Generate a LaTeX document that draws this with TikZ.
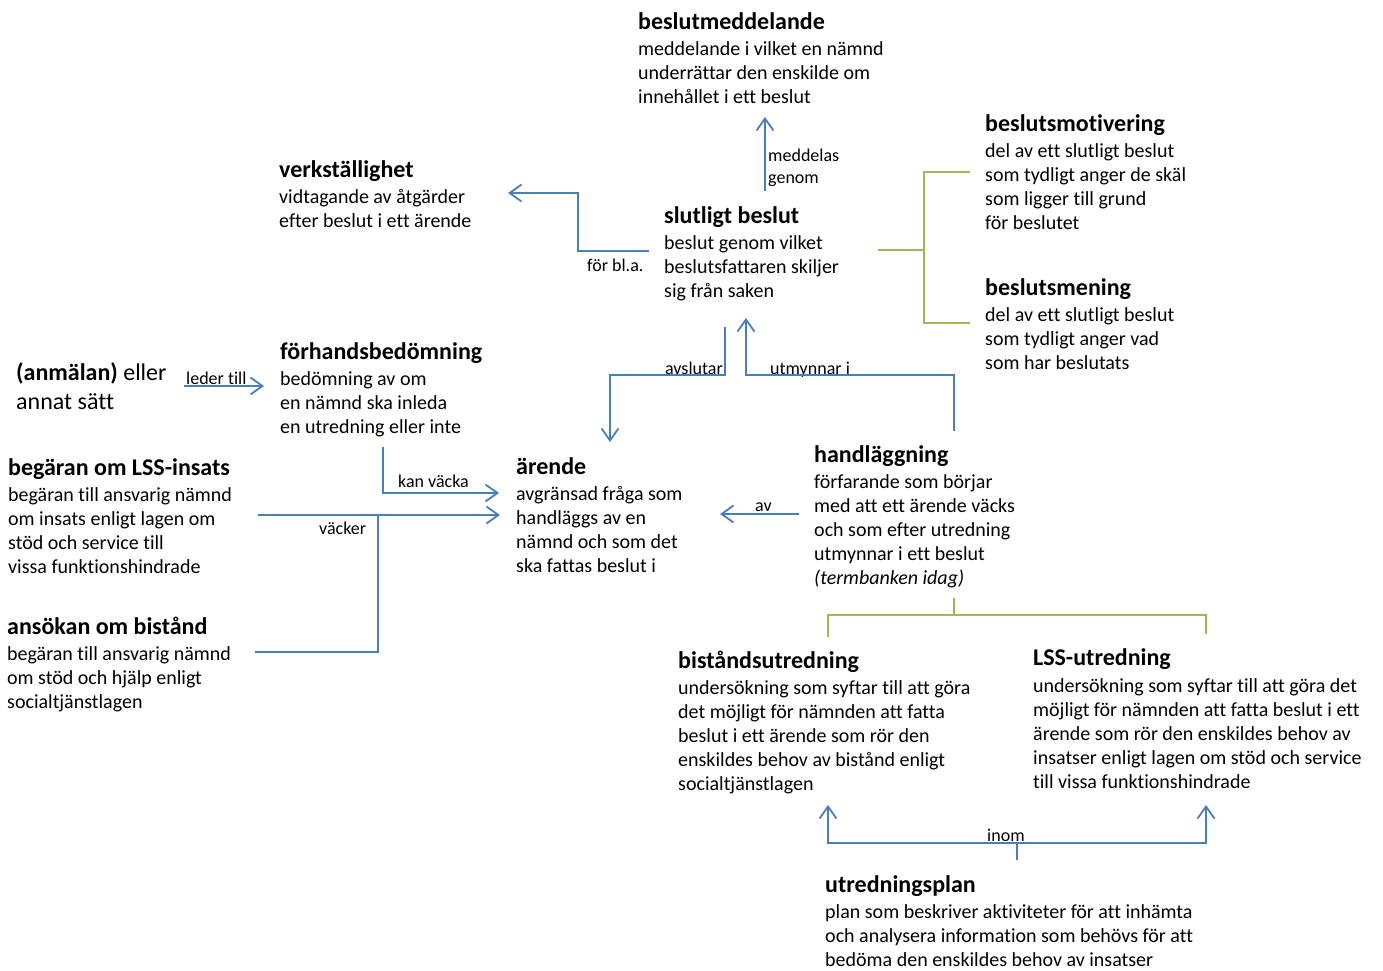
\documentclass[tikz,border=0pt]{standalone}
\usepackage{fontspec}
\setmainfont{Carlito}[Ligatures=NoCommon]
\usetikzlibrary{arrows.meta}
\definecolor{bl}{HTML}{4A7EBB}
\definecolor{gr}{HTML}{9BBB59}
\tikzset{
  ttl/.style={font=\fontsize{24}{29}\selectfont\bfseries, anchor=base west, inner sep=0pt},
  bdy/.style={font=\fontsize{20}{24}\selectfont, anchor=base west, align=left, inner sep=0pt},
  lbl/.style={font=\fontsize{18}{22}\selectfont, anchor=base west, align=left, inner sep=0pt},
  conn/.style={draw=bl, line width=1.8pt},
  arr/.style={conn, -{Straight Barb[length=12pt,width=17pt,line width=1.8pt]}},
  grn/.style={draw=gr, line width=1.8pt},
}
\begin{document}
\begin{tikzpicture}[x=1pt,y=-1pt]
\useasboundingbox (0,0) rectangle (1383,970);
\begin{scope}[yshift=-1pt]
% texts (multi-line nodes are placed by the baseline of their last line)
\node[ttl] (bm-t) at (638,28) {beslutmeddelande};
\node[bdy] (bm) at (638,102) {meddelande i vilket en nämnd\\underrättar den enskilde om\\innehållet i ett beslut};
\node[ttl] (vk-t) at (279,176) {verkställighet};
\node[bdy] (vk) at (279,226) {vidtagande av åtgärder\\efter beslut i ett ärende};
\node[ttl] (sb-t) at (664,222) {slutligt beslut};
\node[bdy] (sb) at (664,296) {beslut genom vilket\\beslutsfattaren skiljer\\sig från saken};
\node[ttl] (bmo-t) at (985,130) {beslutsmotivering};
\node[bdy] (bmo) at (985,228) {del av ett slutligt beslut\\som tydligt anger de skäl\\som ligger till grund\\för beslutet};
\node[ttl] (bme-t) at (985,294) {beslutsmening};
\node[bdy] (bme) at (985,368) {del av ett slutligt beslut\\som tydligt anger vad\\som har beslutats};
\node[font=\fontsize{24}{29}\selectfont, anchor=base west, align=left, inner sep=0pt] (an) at (16,408) {\textbf{(anmälan)} eller\\annat sätt};
\node[ttl] (fb-t) at (280,358) {förhandsbedömning};
\node[bdy] (fb) at (280,432) {bedömning av om\\en nämnd ska inleda\\en utredning eller inte};
\node[ttl] (lss-t) at (8,474) {begäran om LSS-insats};
\node[bdy] (lss) at (8,572) {begäran till ansvarig nämnd\\om insats enligt lagen om\\stöd och service till\\vissa funktionshindrade};
\node[ttl] (ar-t) at (516,473) {ärende};
\node[bdy] (ar) at (516,571) {avgränsad fråga som\\handläggs av en\\nämnd och som det\\ska fattas beslut i};
\node[ttl] (hl-t) at (814,461) {handläggning};
\node[bdy] (hl) at (814,583) {förfarande som börjar\\med att ett ärende väcks\\och som efter utredning\\utmynnar i ett beslut\\\textit{(termbanken idag)}};
\node[ttl] (ab-t) at (7,633) {ansökan om bistånd};
\node[bdy] (ab) at (7,707) {begäran till ansvarig nämnd\\om stöd och hjälp enligt\\socialtjänstlagen};
\node[ttl] (bu-t) at (678,667) {biståndsutredning};
\node[bdy] (bu) at (678,789) {undersökning som syftar till att göra\\det möjligt för nämnden att fatta\\beslut i ett ärende som rör den\\enskildes behov av bistånd enligt\\socialtjänstlagen};
\node[ttl] (lu-t) at (1033,664) {LSS-utredning};
\node[bdy] (lu) at (1033,787) {undersökning som syftar till att göra det\\möjligt för nämnden att fatta beslut i ett\\ärende som rör den enskildes behov av\\insatser enligt lagen om stöd och service\\till vissa funktionshindrade};
\node[ttl] (up-t) at (825,891) {utredningsplan};
\node[bdy] (up) at (825,965) {plan som beskriver aktiviteter för att inhämta\\och analysera information som behövs för att\\bedöma den enskildes behov av insatser};
% labels
\node[lbl] (lm) at (768,182) {meddelas\\genom};
\node[lbl] (lf) at (587,270) {för bl.a.};
\node[lbl] (ll) at (186,383) {leder till};
\node[lbl, anchor=base east] (la) at (723,373) {avslutar};
\node[lbl] (lu2) at (770,373) {utmynnar i};
\node[lbl] (lk) at (398,486) {kan väcka};
\node[lbl] (lv) at (319,533) {väcker};
\node[lbl] (lav) at (755,510) {av};
\node[lbl] (li) at (987,840) {inom};
\end{scope}
% coordinates
\coordinate (m0) at (765,191); \coordinate (m1) at (765,117);
\coordinate (f0) at (649,251); \coordinate (f1) at (578,251); \coordinate (f2) at (578,193); \coordinate (f3) at (508,193);
\coordinate (l0) at (184,386); \coordinate (l1) at (264,386);
\coordinate (a0) at (725,327); \coordinate (a1) at (725,375); \coordinate (a2) at (610,375); \coordinate (a3) at (610,442);
\coordinate (u0) at (954,431); \coordinate (u1) at (954,375); \coordinate (u2) at (746,375); \coordinate (u3) at (746,318);
\coordinate (k0) at (383,447); \coordinate (k1) at (383,493); \coordinate (k2) at (499,493);
\coordinate (v0) at (258,515); \coordinate (v1) at (500,515);
\coordinate (w0) at (255,652); \coordinate (w1) at (378,652); \coordinate (w2) at (378,515);
\coordinate (av0) at (799,514); \coordinate (av1) at (720,514);
\coordinate (i0) at (1017,860); \coordinate (i1) at (1017,843);
\coordinate (i2) at (828,843); \coordinate (i3) at (828,805);
\coordinate (i4) at (1206,843); \coordinate (i5) at (1206,805);
% blue connectors
\draw[arr] (m0) -- (m1);
\draw[arr] (f0) -- (f1) -- (f2) -- (f3);
\draw[arr] (l0) -- (l1);
\draw[arr] (a0) -- (a1) -- (a2) -- (a3);
\draw[arr] (u0) -- (u1) -- (u2) -- (u3);
\draw[arr] (k0) -- (k1) -- (k2);
\draw[arr] (v0) -- (v1);
\draw[conn] (w0) -- (w1) -- (w2);
\draw[arr] (av0) -- (av1);
\draw[conn] (i0) -- (i1);
\draw[arr] (i1) -- (i2) -- (i3);
\draw[arr] (i1) -- (i4) -- (i5);
% green brackets
\coordinate (g0) at (878,250); \coordinate (g1) at (924,250);
\coordinate (g2) at (924,172); \coordinate (g3) at (970,172);
\coordinate (g4) at (924,323); \coordinate (g5) at (970,323);
\draw[grn] (g0) -- (g1);
\draw[grn] (g3) -- (g2) -- (g4) -- (g5);
\coordinate (h0) at (954,598); \coordinate (h1) at (954,615);
\coordinate (h2) at (828,615); \coordinate (h3) at (828,637);
\coordinate (h4) at (1206,615); \coordinate (h5) at (1206,634);
\draw[grn] (h0) -- (h1);
\draw[grn] (h3) -- (h2) -- (h4) -- (h5);
\end{tikzpicture}
\end{document}
